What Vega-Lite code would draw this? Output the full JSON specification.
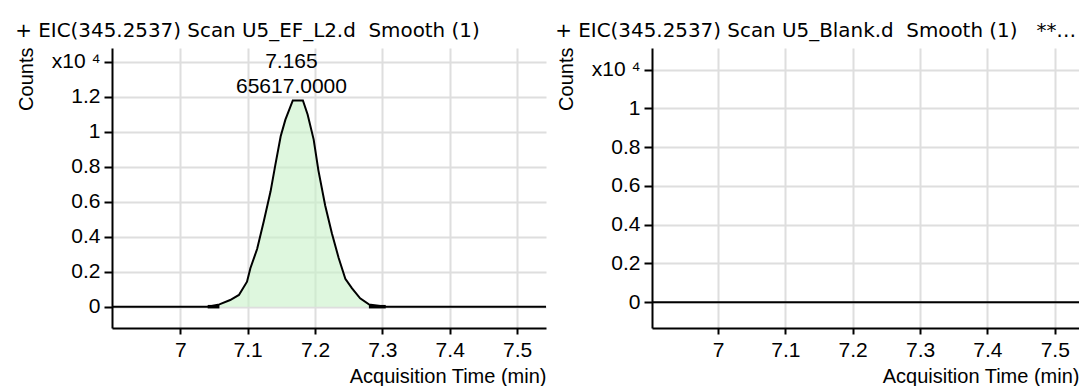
{
  "$schema": "https://vega.github.io/schema/vega-lite/v6.json",
  "background": "white",
  "padding": {"left": 15, "top": 21, "right": 0, "bottom": 0},
  "spacing": 9,
  "datasets": {
    "sample": [
      {"t": 6.89, "counts": 0},
      {"t": 7.0406, "counts": 0},
      {"t": 7.058, "counts": 0.013},
      {"t": 7.074, "counts": 0.038},
      {"t": 7.087, "counts": 0.067},
      {"t": 7.099, "counts": 0.143},
      {"t": 7.104, "counts": 0.22},
      {"t": 7.114, "counts": 0.33},
      {"t": 7.124, "counts": 0.49},
      {"t": 7.134, "counts": 0.66},
      {"t": 7.141, "counts": 0.81},
      {"t": 7.149, "counts": 0.975},
      {"t": 7.156, "counts": 1.07},
      {"t": 7.167, "counts": 1.18},
      {"t": 7.182, "counts": 1.18},
      {"t": 7.189, "counts": 1.1},
      {"t": 7.198, "counts": 0.956},
      {"t": 7.205, "counts": 0.78},
      {"t": 7.215, "counts": 0.58},
      {"t": 7.225, "counts": 0.42},
      {"t": 7.235, "counts": 0.28},
      {"t": 7.245, "counts": 0.16},
      {"t": 7.255, "counts": 0.105},
      {"t": 7.267, "counts": 0.048},
      {"t": 7.28, "counts": 0.013},
      {"t": 7.305, "counts": 0},
      {"t": 7.55, "counts": 0}
    ],
    "intmarks": [
      {"t": 7.0406, "counts": 0, "seg": "start"},
      {"t": 7.058, "counts": 0, "seg": "start"},
      {"t": 7.28, "counts": 0, "seg": "end"},
      {"t": 7.305, "counts": 0, "seg": "end"}
    ],
    "apex": [
      {"t": 7.165, "counts": 1.18, "rt": "7.165", "area": "65617.0000"}
    ],
    "blank": [
      {"t": 6.89, "counts": 0},
      {"t": 7.55, "counts": 0}
    ]
  },
  "config": {
    "view": {"stroke": null},
    "font": "Liberation Sans",
    "axis": {
      "domainColor": "black",
      "domainWidth": 2,
      "tickColor": "black",
      "tickWidth": 2,
      "labelFont": "Liberation Sans",
      "labelFontSize": 21,
      "labelColor": "black",
      "gridColor": "#dedede",
      "gridWidth": 2,
      "titleFont": "Liberation Sans",
      "titleFontSize": 20,
      "titleFontWeight": "normal",
      "titleColor": "black",
      "labelFlush": false,
      "labelOverlap": false
    },
    "axisX": {"tickSize": 6, "labelPadding": 5, "titlePadding": 6, "titleAnchor": "end"},
    "axisY": {"tickSize": 8, "labelPadding": 4, "titlePadding": 15, "titleAngle": 270, "titleAlign": "right", "titleBaseline": "bottom", "titleY": -1},
    "title": {
      "font": "DejaVu Sans",
      "fontSize": 19.9,
      "fontWeight": "normal",
      "color": "black",
      "anchor": "start",
      "frame": "bounds",
      "offset": 6,
      "dx": -1
    }
  },
  "hconcat": [
    {
      "width": 434,
      "height": 280,
      "title": {"text": "+ EIC(345.2537) Scan U5_EF_L2.d\u00a0 Smooth (1)"},
      "encoding": {
        "x": {
          "field": "t",
          "type": "quantitative",
          "scale": {"domain": [6.8985, 7.543], "nice": false, "zero": false},
          "axis": {"values": [7, 7.1, 7.2, 7.3, 7.4, 7.5], "format": "~g", "title": "Acquisition Time (min)", "grid": true}
        },
        "y": {
          "field": "counts",
          "type": "quantitative",
          "scale": {"domain": [-0.122, 1.48], "nice": false, "zero": false},
          "axis": {
            "values": [0, 0.2, 0.4, 0.6, 0.8, 1, 1.2, 1.4],
            "format": "~g",
            "labelExpr": "datum.value == 1.4 ? 'x10 \u2074' : datum.label",
            "title": "Counts",
            "grid": true
          }
        }
      },
      "layer": [
        {
          "data": {"name": "sample"},
          "mark": {"type": "area", "color": "#c8f2c8", "fillOpacity": 0.6, "clip": true},
          "encoding": {"y2": {"datum": 0}}
        },
        {
          "data": {"name": "sample"},
          "mark": {"type": "line", "color": "black", "strokeWidth": 2, "clip": true}
        },
        {
          "data": {"name": "intmarks"},
          "mark": {"type": "line", "color": "black", "strokeWidth": 3.5},
          "encoding": {"detail": {"field": "seg"}}
        },
        {
          "data": {"name": "apex"},
          "mark": {"type": "text", "font": "Liberation Sans", "fontSize": 21, "baseline": "alphabetic", "dy": -32, "color": "black"},
          "encoding": {"text": {"field": "rt"}}
        },
        {
          "data": {"name": "apex"},
          "mark": {"type": "text", "font": "Liberation Sans", "fontSize": 21, "baseline": "alphabetic", "dy": -7, "color": "black"},
          "encoding": {"text": {"field": "area"}}
        }
      ]
    },
    {
      "width": 427,
      "height": 280,
      "title": {"text": "+ EIC(345.2537) Scan U5_Blank.d\u00a0 Smooth (1)\u00a0\u00a0\u00a0**\u00a0Counts vs. Acquisition Time (min)", "limit": 522},
      "encoding": {
        "x": {
          "field": "t",
          "type": "quantitative",
          "scale": {"domain": [6.902, 7.536], "nice": false, "zero": false},
          "axis": {"values": [7, 7.1, 7.2, 7.3, 7.4, 7.5], "format": "~g", "title": "Acquisition Time (min)", "grid": true}
        },
        "y": {
          "field": "counts",
          "type": "quantitative",
          "scale": {"domain": [-0.133, 1.311], "nice": false, "zero": false},
          "axis": {
            "values": [0, 0.2, 0.4, 0.6, 0.8, 1, 1.2],
            "format": "~g",
            "labelExpr": "datum.value == 1.2 ? 'x10 \u2074' : datum.label",
            "title": "Counts",
            "grid": true
          }
        }
      },
      "layer": [
        {
          "data": {"name": "blank"},
          "mark": {"type": "line", "color": "black", "strokeWidth": 2, "clip": true}
        }
      ]
    }
  ]
}
